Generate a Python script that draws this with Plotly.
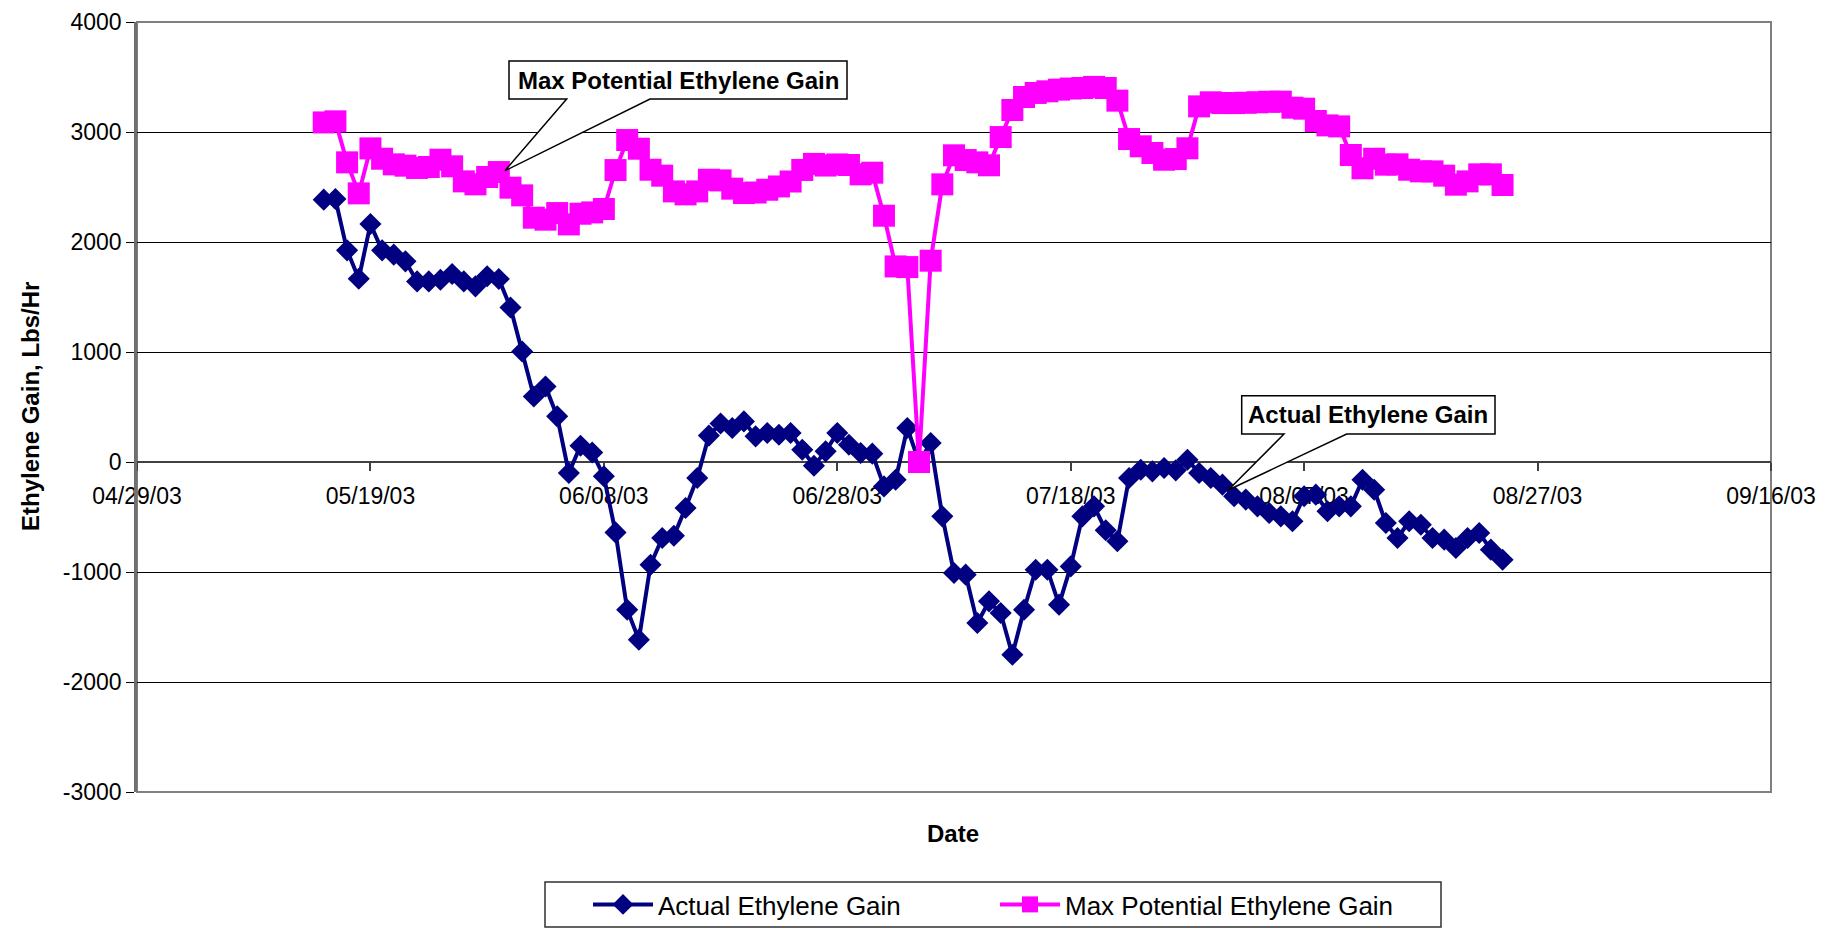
import plotly.graph_objects as go

# ---------------- data ----------------
dates = [
    # May 2003
    "2003-05-15", "2003-05-16", "2003-05-17", "2003-05-18", "2003-05-19", "2003-05-20",
    "2003-05-21", "2003-05-22", "2003-05-23", "2003-05-24", "2003-05-25", "2003-05-26",
    "2003-05-27", "2003-05-28", "2003-05-29", "2003-05-30", "2003-05-31",
    # June 2003
    "2003-06-01", "2003-06-02", "2003-06-03", "2003-06-04", "2003-06-05", "2003-06-06",
    "2003-06-07", "2003-06-08", "2003-06-09", "2003-06-10", "2003-06-11", "2003-06-12",
    "2003-06-13", "2003-06-14", "2003-06-15", "2003-06-16", "2003-06-17", "2003-06-18",
    "2003-06-19", "2003-06-20", "2003-06-21", "2003-06-22", "2003-06-23", "2003-06-24",
    "2003-06-25", "2003-06-26", "2003-06-27", "2003-06-28", "2003-06-29", "2003-06-30",
    # July 2003
    "2003-07-01", "2003-07-02", "2003-07-03", "2003-07-04", "2003-07-05", "2003-07-06",
    "2003-07-07", "2003-07-08", "2003-07-09", "2003-07-10", "2003-07-11", "2003-07-12",
    "2003-07-13", "2003-07-14", "2003-07-15", "2003-07-16", "2003-07-17", "2003-07-18",
    "2003-07-19", "2003-07-20", "2003-07-21", "2003-07-22", "2003-07-23", "2003-07-24",
    "2003-07-25", "2003-07-26", "2003-07-27", "2003-07-28", "2003-07-29", "2003-07-30",
    "2003-07-31",
    # August 2003
    "2003-08-01", "2003-08-02", "2003-08-03", "2003-08-04", "2003-08-05", "2003-08-06",
    "2003-08-07", "2003-08-08", "2003-08-09", "2003-08-10", "2003-08-11", "2003-08-12",
    "2003-08-13", "2003-08-14", "2003-08-15", "2003-08-16", "2003-08-17", "2003-08-18",
    "2003-08-19", "2003-08-20", "2003-08-21", "2003-08-22", "2003-08-23", "2003-08-24",
]

actual_gain = [
    2385, 2391, 1924, 1666, 2163, 1924, 1885, 1824, 1642, 1642,
    1657, 1709, 1642, 1597, 1688, 1664, 1405, 1005, 596, 687,
    415, -100, 148, 87, -130, -640, -1343, -1615, -934, -691,
    -670, -418, -145, 240, 350, 309, 369, 233, 264, 248,
    264, 112, -34, 97, 264, 157, 82, 76, -222, -161,
    309, 0, 173, -494, -1009, -1024, -1464, -1267, -1373, -1752,
    -1343, -979, -979, -1297, -949, -494, -403, -620, -720, -145,
    -70, -85, -55, -76, 21, -100, -145, -206, -312, -342,
    -403, -464, -494, -539, -312, -297, -448, -403, -403, -161,
    -252, -555, -691, -539, -570, -691, -706, -782, -691, -645,
    -797, -888,
]

max_potential_gain = [
    3087, 3097, 2724, 2442, 2851, 2757, 2706, 2694, 2673, 2682,
    2748, 2688, 2551, 2524, 2591, 2636, 2494, 2424, 2221, 2203,
    2263, 2160, 2257, 2269, 2300, 2654, 2927, 2848, 2657, 2603,
    2460, 2433, 2460, 2566, 2560, 2485, 2445, 2450, 2475, 2505,
    2550, 2655, 2710, 2695, 2705, 2700, 2615, 2630, 2239, 1778,
    1772, 0, 1830, 2524, 2788, 2745, 2724, 2697, 2954, 3200,
    3318, 3355, 3370, 3385, 3395, 3400, 3410, 3400, 3285, 2936,
    2870, 2809, 2748, 2754, 2852, 3233, 3270, 3263, 3263, 3266,
    3270, 3275, 3276, 3221, 3212, 3100, 3060, 3051, 2791, 2670,
    2757, 2703, 2706, 2657, 2642, 2642, 2603, 2521, 2551, 2615,
    2615, 2518,
]

series_names = ["Actual Ethylene Gain", "Max Potential Ethylene Gain"]
x_range = ["2003-04-29", "2003-09-16"]
y_range = [-3000, 4000]
y_tick_values = [-3000, -2000, -1000, 0, 1000, 2000, 3000, 4000]
y_tick_labels = ["-3000", "-2000", "-1000", "0", "1000", "2000", "3000", "4000"]

# ---------------- layout geometry ----------------
W, H = 1827, 931
L, R, T, B = 137, 56, 22, 139
PW = W - L - R
PH = H - T - B
FONT = "Liberation Sans, Arial, sans-serif"


def fx(px):
    return (px - L) / PW


def fy(py):
    return (H - B - py) / PH


fig = go.Figure()
fig.add_trace(go.Scatter(
    x=dates, y=actual_gain, name=series_names[0], mode="lines+markers",
    line=dict(color="#000080", width=4),
    marker=dict(symbol="diamond", size=17, color="#000080", line=dict(width=0)),
))
fig.add_trace(go.Scatter(
    x=dates, y=max_potential_gain, name=series_names[1], mode="lines+markers",
    line=dict(color="#FF00FF", width=4),
    marker=dict(symbol="square", size=22, color="#FF00FF", line=dict(width=0)),
))


def callout_path(x0, x1, ytop, ybot, b1, b2, tip):
    pts = [(x0, ytop), (x1, ytop), (x1, ybot), (b2, ybot), tip, (b1, ybot), (x0, ybot)]
    s = "M " + " L ".join(f"{fx(a):.5f},{fy(b):.5f}" for a, b in pts) + " Z"
    return s


shapes = [
    # plot-area border
    dict(type="rect", xref="paper", yref="paper", x0=0, x1=1, y0=0, y1=1,
         line=dict(color="#808080", width=2), layer="below"),
    # legend frame
    dict(type="rect", xref="paper", yref="paper", x0=fx(545), x1=fx(1441),
         y0=fy(927), y1=fy(882), line=dict(color="#303030", width=1.5),
         fillcolor="white", layer="below"),
    # callouts
    dict(type="path", xref="paper", yref="paper",
         path=callout_path(509, 847, 61, 99, 566.7, 650, (505, 170.7)),
         line=dict(color="black", width=1.5), fillcolor="white", layer="above"),
    dict(type="path", xref="paper", yref="paper",
         path=callout_path(1241.7, 1495, 395.7, 434, 1284, 1346.7, (1228.3, 490)),
         line=dict(color="black", width=1.5), fillcolor="white", layer="above"),
]

annotations = [
    dict(text="<b>Max Potential Ethylene Gain</b>", xref="paper", yref="paper",
         x=fx(678), y=fy(80), showarrow=False, xanchor="center", yanchor="middle",
         font=dict(family=FONT, size=24, color="black")),
    dict(text="<b>Actual Ethylene Gain</b>", xref="paper", yref="paper",
         x=fx(1368.3), y=fy(414.8), showarrow=False, xanchor="center", yanchor="middle",
         font=dict(family=FONT, size=24, color="black")),
    dict(text="<b>Ethylene Gain, Lbs/Hr</b>", xref="paper", yref="paper",
         x=fx(30), y=0.5, showarrow=False, textangle=-90, xanchor="center", yanchor="middle",
         font=dict(family=FONT, size=24, color="black")),
    dict(text="<b>Date</b>", xref="paper", yref="paper",
         x=fx(953), y=fy(833), showarrow=False, xanchor="center", yanchor="middle",
         font=dict(family=FONT, size=24, color="black")),
]

fig.update_layout(
    width=W, height=H,
    margin=dict(l=L, r=R, t=T, b=B, pad=0, autoexpand=False),
    paper_bgcolor="white", plot_bgcolor="white",
    font=dict(family=FONT, size=23, color="black"),
    showlegend=True,
    legend=dict(orientation="h", xref="container", yref="container",
                x=588 / W, y=1 - 904.5 / H, xanchor="left", yanchor="middle",
                itemwidth=60, entrywidth=332, entrywidthmode="pixels",
                font=dict(family=FONT, size=26, color="black"),
                bgcolor="rgba(0,0,0,0)", borderwidth=0),
    xaxis=dict(type="date", range=x_range, tick0="2003-04-29", dtick=20 * 86400000,
               tickformat="%m/%d/%y", anchor="free", position=3 / 7,
               showline=True, linecolor="#404040", linewidth=1.5,
               ticks="outside", ticklen=8, tickcolor="#404040", tickwidth=1.5,
               ticklabelstandoff=6,
               showgrid=False, zeroline=False, layer="below traces",
               tickfont=dict(family=FONT, size=23, color="black")),
    yaxis=dict(range=y_range, tickmode="array", tickvals=y_tick_values, ticktext=y_tick_labels,
               showgrid=True, gridcolor="black", gridwidth=1,
               showline=True, linecolor="#707070", linewidth=2.5,
               ticks="outside", ticklen=8, tickcolor="black", tickwidth=1,
               zeroline=False,
               tickfont=dict(family=FONT, size=23, color="black")),
    shapes=shapes,
    annotations=annotations,
)

fig.write_html("out.html")
